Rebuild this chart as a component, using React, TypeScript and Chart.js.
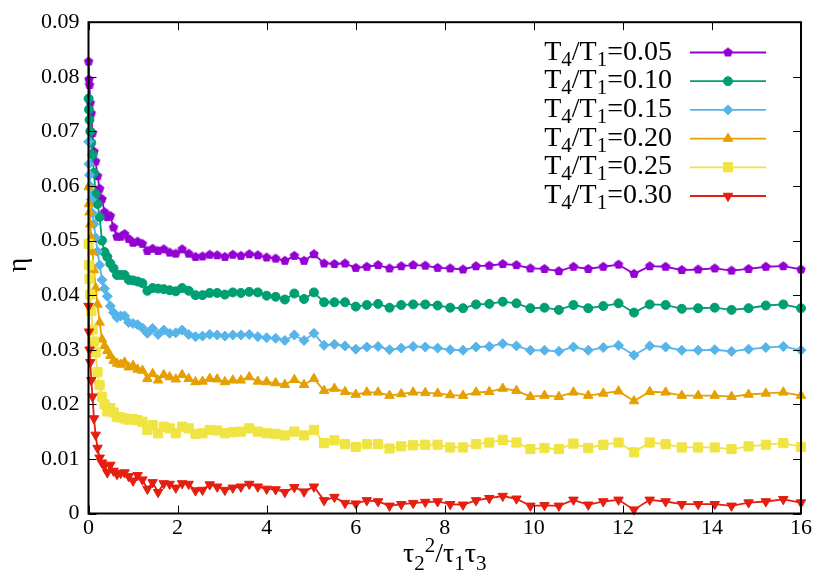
import { Chart, registerables } from 'chart.js'
import { drawPoint } from 'chart.js/helpers'
import React, { useEffect, useRef } from 'react'

Chart.register(...registerables)

// x = tau2^2 / (tau1 tau3)
const xValues = [
  0.0025, 0.01, 0.0225, 0.04, 0.0625, 0.09, 0.1225, 0.16, 0.2025, 0.25,
  0.3025, 0.36, 0.4225, 0.49, 0.5625, 0.64, 0.7225, 0.81, 0.9025, 1.0,
  1.1025, 1.21, 1.3225, 1.44, 1.5625, 1.69, 1.8225, 1.96, 2.1025, 2.25,
  2.4025, 2.56, 2.7225, 2.89, 3.0625, 3.24, 3.4225, 3.61, 3.8025, 4.0,
  4.2025, 4.41, 4.6225, 4.84, 5.0625, 5.29, 5.5225, 5.76, 6.0025, 6.25,
  6.5025, 6.76, 7.0225, 7.29, 7.5625, 7.84, 8.1225, 8.41, 8.7025, 9.0,
  9.3025, 9.61, 9.9225, 10.24, 10.5625, 10.89, 11.2225, 11.56, 11.9025, 12.25,
  12.6025, 12.96, 13.3225, 13.69, 14.0625, 14.44, 14.8225, 15.21, 15.6025, 16.0,
]

const eta005 = [
  0.0828, 0.0795, 0.0785, 0.0752, 0.0733, 0.0697, 0.0663, 0.0645, 0.0618, 0.0595,
  0.0576, 0.0552, 0.0543, 0.0545, 0.0524, 0.0507, 0.0507, 0.0512, 0.0503, 0.0496,
  0.0498, 0.0494, 0.0481, 0.0485, 0.0481, 0.0484, 0.0478, 0.0476, 0.0484, 0.0476,
  0.0470, 0.0471, 0.0474, 0.0473, 0.0470, 0.0474, 0.0472, 0.0475, 0.0473, 0.0469,
  0.0467, 0.0463, 0.0472, 0.0463, 0.0475, 0.0458, 0.0457, 0.0458, 0.0450, 0.0452,
  0.0455, 0.0449, 0.0453, 0.0455, 0.0454, 0.0450, 0.0449, 0.0447, 0.0453, 0.0454,
  0.0457, 0.0455, 0.0449, 0.0448, 0.0444, 0.0452, 0.0448, 0.0452, 0.0456, 0.0439,
  0.0453, 0.0452, 0.0446, 0.0447, 0.0449, 0.0445, 0.0448, 0.0452, 0.0453, 0.0447,
]

const eta010 = [
  0.0760, 0.0740, 0.0721, 0.0700, 0.0679, 0.0657, 0.0624, 0.0585, 0.0567, 0.0543,
  0.0500, 0.0479, 0.0470, 0.0458, 0.0449, 0.0437, 0.0437, 0.0437, 0.0428, 0.0427,
  0.0425, 0.0422, 0.0408, 0.0413, 0.0412, 0.0411, 0.0409, 0.0407, 0.0413, 0.0408,
  0.0400, 0.0400, 0.0404, 0.0404, 0.0401, 0.0405, 0.0404, 0.0406, 0.0405, 0.0399,
  0.0397, 0.0392, 0.0403, 0.0393, 0.0405, 0.0387, 0.0387, 0.0387, 0.0379, 0.0382,
  0.0384, 0.0377, 0.0382, 0.0383, 0.0383, 0.0381, 0.0377, 0.0376, 0.0383, 0.0384,
  0.0388, 0.0385, 0.0376, 0.0377, 0.0373, 0.0382, 0.0376, 0.0380, 0.0385, 0.0368,
  0.0383, 0.0382, 0.0375, 0.0376, 0.0377, 0.0373, 0.0376, 0.0381, 0.0383, 0.0376,
]

const eta015 = [
  0.0681, 0.0640, 0.0620, 0.0600, 0.0575, 0.0550, 0.0530, 0.0505, 0.0480, 0.0455,
  0.0428, 0.0412, 0.0398, 0.0380, 0.0368, 0.0359, 0.0362, 0.0362, 0.0350, 0.0348,
  0.0346, 0.0340, 0.0330, 0.0339, 0.0328, 0.0336, 0.0330, 0.0331, 0.0336, 0.0328,
  0.0324, 0.0325, 0.0328, 0.0327, 0.0325, 0.0327, 0.0327, 0.0328, 0.0324, 0.0322,
  0.0321, 0.0317, 0.0327, 0.0317, 0.0330, 0.0308, 0.0310, 0.0307, 0.0301, 0.0305,
  0.0306, 0.0300, 0.0303, 0.0306, 0.0305, 0.0303, 0.0300, 0.0299, 0.0305, 0.0306,
  0.0311, 0.0307, 0.0299, 0.0299, 0.0297, 0.0305, 0.0299, 0.0304, 0.0308, 0.0290,
  0.0307, 0.0305, 0.0299, 0.0299, 0.0300, 0.0297, 0.0301, 0.0304, 0.0306, 0.0299,
]

const eta020 = [
  0.0598, 0.0567, 0.0552, 0.0530, 0.0505, 0.0479, 0.0446, 0.0413, 0.0383, 0.0350,
  0.0319, 0.0307, 0.0298, 0.0289, 0.0280, 0.0275, 0.0273, 0.0277, 0.0268, 0.0271,
  0.0264, 0.0262, 0.0247, 0.0256, 0.0244, 0.0254, 0.0250, 0.0246, 0.0254, 0.0247,
  0.0241, 0.0242, 0.0247, 0.0246, 0.0241, 0.0244, 0.0244, 0.0250, 0.0242, 0.0241,
  0.0239, 0.0236, 0.0245, 0.0236, 0.0247, 0.0225, 0.0229, 0.0223, 0.0218, 0.0222,
  0.0222, 0.0216, 0.0219, 0.0222, 0.0221, 0.0220, 0.0217, 0.0216, 0.0222, 0.0223,
  0.0229, 0.0225, 0.0214, 0.0216, 0.0214, 0.0222, 0.0216, 0.0220, 0.0224, 0.0206,
  0.0223, 0.0222, 0.0216, 0.0216, 0.0216, 0.0214, 0.0218, 0.0220, 0.0222, 0.0216,
]

const eta025 = [
  0.0494, 0.0455, 0.0430, 0.0401, 0.0371, 0.0337, 0.0315, 0.0295, 0.0259, 0.0235,
  0.0214, 0.0200, 0.0187, 0.0193, 0.0185, 0.0177, 0.0176, 0.0174, 0.0172, 0.0173,
  0.0171, 0.0168, 0.0153, 0.0162, 0.0147, 0.0159, 0.0156, 0.0147, 0.0159, 0.0156,
  0.0146, 0.0147, 0.0153, 0.0152, 0.0147, 0.0149, 0.0150, 0.0156, 0.0150, 0.0147,
  0.0146, 0.0143, 0.0150, 0.0143, 0.0153, 0.0129, 0.0134, 0.0127, 0.0122, 0.0127,
  0.0127, 0.0119, 0.0123, 0.0125, 0.0126, 0.0126, 0.0121, 0.0121, 0.0127, 0.0130,
  0.0135, 0.0130, 0.0118, 0.0120, 0.0118, 0.0128, 0.0120, 0.0126, 0.0130, 0.0112,
  0.0130, 0.0127, 0.0121, 0.0121, 0.0121, 0.0118, 0.0123, 0.0126, 0.0129, 0.0122,
]

const eta030 = [
  0.0380, 0.0333, 0.0300, 0.0277, 0.0244, 0.0214, 0.0174, 0.0144, 0.0120, 0.0102,
  0.0093, 0.0087, 0.0075, 0.0089, 0.0078, 0.0072, 0.0074, 0.0075, 0.0068, 0.0060,
  0.0070, 0.0062, 0.0045, 0.0057, 0.0039, 0.0055, 0.0054, 0.0047, 0.0055, 0.0054,
  0.0042, 0.0043, 0.0053, 0.0049, 0.0043, 0.0047, 0.0049, 0.0054, 0.0049, 0.0045,
  0.0044, 0.0039, 0.0048, 0.0040, 0.0049, 0.0024, 0.0030, 0.0019, 0.0018, 0.0024,
  0.0022, 0.0014, 0.0017, 0.0019, 0.0021, 0.0022, 0.0017, 0.0016, 0.0024, 0.0028,
  0.0032, 0.0027, 0.0014, 0.0015, 0.0014, 0.0025, 0.0016, 0.0022, 0.0025, 0.0007,
  0.0025, 0.0022, 0.0017, 0.0017, 0.0017, 0.0014, 0.0020, 0.0022, 0.0026, 0.0020,
]

const ratios = ['0.05', '0.10', '0.15', '0.20', '0.25', '0.30']
const seriesValues = [eta005, eta010, eta015, eta020, eta025, eta030]
const colors = ['#9400d3', '#009e73', '#56b4e9', '#e69f00', '#f0e442', '#e51e10']

const SERIF = "'Liberation Serif', 'DejaVu Serif', serif"

// filled pentagon, used as a point style (chart.js has none)
function makePentagon(color: string, r: number) {
  const c = document.createElement('canvas')
  const size = Math.ceil(r * 2 + 2)
  c.width = size
  c.height = size
  const g = c.getContext('2d')!
  g.fillStyle = color
  g.beginPath()
  for (let i = 0; i < 5; i++) {
    const a = -Math.PI / 2 + (i * 2 * Math.PI) / 5
    const px = size / 2 + r * Math.cos(a)
    const py = size / 2 + r * Math.sin(a)
    if (i === 0) g.moveTo(px, py)
    else g.lineTo(px, py)
  }
  g.closePath()
  g.fill()
  return c
}

type Part = { t: string; size: number; dy: number }

function drawRich(ctx: CanvasRenderingContext2D, parts: Part[], x: number, y: number, align: 'left' | 'right' | 'center') {
  let total = 0
  for (const p of parts) {
    ctx.font = `${p.size}px ${SERIF}`
    total += ctx.measureText(p.t).width
  }
  let cx = align === 'left' ? x : align === 'right' ? x - total : x - total / 2
  ctx.textAlign = 'left'
  ctx.textBaseline = 'alphabetic'
  for (const p of parts) {
    ctx.font = `${p.size}px ${SERIF}`
    ctx.fillText(p.t, cx, y + p.dy)
    cx += ctx.measureText(p.t).width
  }
}

const framePlugin = {
  id: 'gnuplotFrame',
  afterDatasetsDraw(chart: any) {
    const { ctx, chartArea: a, scales } = chart
    ctx.save()

    // inward ticks on all four sides
    ctx.strokeStyle = '#000'
    ctx.lineWidth = 1
    ctx.beginPath()
    for (const t of scales.x.ticks) {
      const px = Math.round(scales.x.getPixelForValue(t.value)) + 0.5
      ctx.moveTo(px, a.bottom)
      ctx.lineTo(px, a.bottom - 8)
      ctx.moveTo(px, a.top)
      ctx.lineTo(px, a.top + 8)
    }
    for (const t of scales.y.ticks) {
      const py = Math.round(scales.y.getPixelForValue(t.value)) + 0.5
      ctx.moveTo(a.left, py)
      ctx.lineTo(a.left + 8, py)
      ctx.moveTo(a.right, py)
      ctx.lineTo(a.right - 8, py)
    }
    ctx.stroke()

    ctx.lineWidth = 2
    ctx.strokeRect(a.left, a.top, a.right - a.left, a.bottom - a.top)

    // legend
    chart.data.datasets.forEach((ds: any, i: number) => {
      const ly = 52.5 + i * 28.7
      ctx.fillStyle = '#000'
      drawRich(
        ctx,
        [
          { t: 'T', size: 28, dy: 0 },
          { t: '4', size: 21, dy: 6 },
          { t: '/T', size: 28, dy: 0 },
          { t: '1', size: 21, dy: 6 },
          { t: '=' + ratios[i], size: 28, dy: 0 },
        ],
        672,
        ly + 7,
        'right'
      )
      ctx.strokeStyle = ds.borderColor
      ctx.lineWidth = ds.borderWidth
      ctx.beginPath()
      ctx.moveTo(690, ly)
      ctx.lineTo(766, ly)
      ctx.stroke()
      ctx.fillStyle = ds.pointBackgroundColor
      ctx.strokeStyle = ds.pointBorderColor
      ctx.lineWidth = ds.pointBorderWidth
      drawPoint(ctx, { pointStyle: ds.pointStyle, rotation: ds.pointRotation, radius: ds.pointRadius, borderWidth: ds.pointBorderWidth }, 728, ly)
    })

    // axis titles
    ctx.fillStyle = '#000'
    drawRich(
      ctx,
      [
        { t: 'τ', size: 28, dy: 0 },
        { t: '2', size: 21, dy: 8 },
        { t: '2', size: 21, dy: -10 },
        { t: '/τ', size: 28, dy: 0 },
        { t: '1', size: 21, dy: 8 },
        { t: 'τ', size: 28, dy: 0 },
        { t: '3', size: 21, dy: 8 },
      ],
      (a.left + a.right) / 2,
      562,
      'center'
    )
    ctx.translate(19, 265)
    ctx.rotate(-Math.PI / 2)
    ctx.font = `28px ${SERIF}`
    ctx.textAlign = 'center'
    ctx.textBaseline = 'middle'
    ctx.fillText('η', 0, 0)

    ctx.restore()
  },
}

const styles: { style: any; radius: number; rotation: number }[] = [
  { style: 'pentagon', radius: 5, rotation: 0 },
  { style: 'circle', radius: 4.5, rotation: 0 },
  { style: 'rectRot', radius: 5, rotation: 0 },
  { style: 'triangle', radius: 5.5, rotation: 0 },
  { style: 'rect', radius: 6.5, rotation: 0 },
  { style: 'triangle', radius: 5.5, rotation: 180 },
]

const App: React.FC = () => {
  const canvasRef = useRef<HTMLCanvasElement>(null)

  useEffect(() => {
    if (!canvasRef.current) return
    const datasets = seriesValues.map((vals, i) => {
      const s = styles[i]
      return {
        label: 'T4/T1=' + ratios[i],
        data: xValues.map((x, j) => ({ x, y: vals[j] })),
        borderColor: colors[i],
        backgroundColor: colors[i],
        borderWidth: 1.8,
        pointStyle: s.style === 'pentagon' ? makePentagon(colors[i], 5) : s.style,
        pointRotation: s.rotation,
        pointRadius: s.radius,
        pointHoverRadius: s.radius,
        pointBackgroundColor: colors[i],
        pointBorderColor: colors[i],
        pointBorderWidth: 1,
        tension: 0,
        clip: false as any,
        order: 6 - i,
      }
    })

    const chart = new Chart(canvasRef.current, {
      type: 'line',
      data: { datasets },
      options: {
        responsive: false,
        animation: false,
        layout: { padding: { left: 0, top: 16, right: 29, bottom: 0 } },
        plugins: {
          legend: { display: false },
          tooltip: { enabled: false },
        },
        scales: {
          x: {
            type: 'linear',
            min: 0,
            max: 16,
            grid: { display: false, drawTicks: false },
            border: { display: false },
            ticks: {
              stepSize: 2,
              color: '#000',
              padding: 2,
              font: { family: SERIF, size: 22 },
              maxRotation: 0,
            },
            afterFit: (scale: any) => {
              scale.height = 67.5
            },
          },
          y: {
            min: 0,
            max: 0.09,
            grid: { display: false, drawTicks: false },
            border: { display: false },
            ticks: {
              stepSize: 0.01,
              color: '#000',
              padding: 9,
              font: { family: SERIF, size: 22 },
              callback: (v: any) => (Number(v) === 0 ? '0' : Number(v).toFixed(2)),
            },
            afterFit: (scale: any) => {
              scale.width = 88.5
            },
          },
        },
      },
      plugins: [framePlugin],
    })

    return () => {
      chart.destroy()
    }
  }, [])

  return (
    <div style={{ position: 'absolute', left: 0, top: 0, width: 830, height: 581, background: '#fff' }}>
      <canvas ref={canvasRef} width={830} height={581} />
    </div>
  )
}

export default App
